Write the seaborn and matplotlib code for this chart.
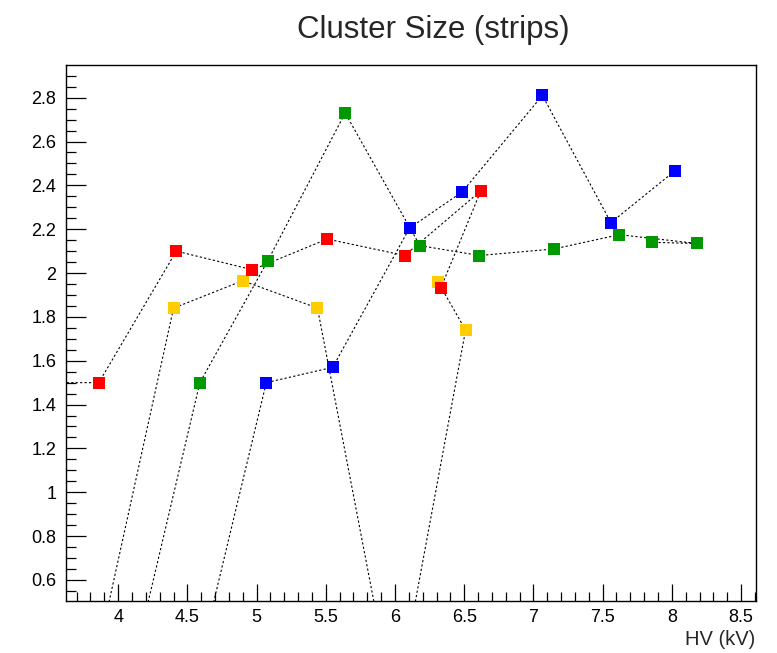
import matplotlib
matplotlib.use("Agg")
import matplotlib.pyplot as plt
from matplotlib.ticker import MultipleLocator, FormatStrFormatter
import seaborn as sns
import pandas as pd

# HV scan points per chamber (kV, mean cluster size in strips)
yellow_hv = [3.76, 4.40, 4.90, 5.44, 6.00, 6.51, 6.31]
yellow_cs = [0.00, 1.84, 1.965, 1.84, 0.00, 1.74, 1.96]

red_hv = [3.50, 3.86, 4.42, 4.97, 5.51, 6.07, 6.62, 6.33]
red_cs = [1.50, 1.50, 2.10, 2.015, 2.155, 2.08, 2.375, 1.93]

green_hv = [4.03, 4.59, 5.08, 5.64, 6.18, 6.61, 7.15, 7.62, 8.18, 7.86]
green_cs = [0.00, 1.50, 2.055, 2.73, 2.125, 2.08, 2.11, 2.175, 2.135, 2.14]

blue_hv = [4.50, 5.07, 5.55, 6.105, 6.485, 7.065, 7.56, 8.02]
blue_cs = [0.00, 1.50, 1.57, 2.205, 2.37, 2.81, 2.23, 2.465]

series = [
    ("yellow", yellow_hv, yellow_cs, "#FFCC00"),
    ("red", red_hv, red_cs, "#FF0000"),
    ("green", green_hv, green_cs, "#009900"),
    ("blue", blue_hv, blue_cs, "#0000FF"),
]

sns.set_theme(style="white")
plt.rcParams["font.family"] = ["Liberation Sans", "DejaVu Sans"]

W, H = 777, 653
fig = plt.figure(figsize=(W / 100, H / 100), dpi=100)
ax = fig.add_axes([66 / W, 1 - 601 / H, (755.7 - 66) / W, (601 - 65) / H])

# connecting lines first (in acquisition order), then the markers on top
for name, hv, cs, col in series:
    df = pd.DataFrame({"hv": hv, "cs": cs})
    sns.lineplot(data=df, x="hv", y="cs", sort=False, estimator=None, ax=ax,
                 color="black", linewidth=0.8, linestyle=(0, (2.0, 2.0)), zorder=2)
for name, hv, cs, col in series:
    df = pd.DataFrame({"hv": hv, "cs": cs})
    sns.scatterplot(data=df, x="hv", y="cs", ax=ax, marker="s", s=78,
                    color=col, edgecolor=col, linewidth=0, zorder=3)

ax.set_xlim(3.623, 8.606)
ax.set_ylim(0.504, 2.949)

ax.xaxis.set_major_locator(MultipleLocator(0.5))
ax.xaxis.set_minor_locator(MultipleLocator(0.1))
ax.yaxis.set_major_locator(MultipleLocator(0.2))
ax.yaxis.set_minor_locator(MultipleLocator(0.05))
ax.xaxis.set_major_formatter(FormatStrFormatter("%g"))
ax.yaxis.set_major_formatter(FormatStrFormatter("%g"))

ax.tick_params(axis="both", which="both", direction="in", colors="black",
               labelsize=13, top=False, right=False, bottom=True, left=True)
ax.tick_params(axis="x", which="major", length=12.5, width=0.9, pad=6)
ax.tick_params(axis="x", which="minor", length=6.5, width=0.9)
ax.tick_params(axis="y", which="major", length=14.5, width=0.9, pad=7)
ax.tick_params(axis="y", which="minor", length=7.5, width=0.9)

for sp in ax.spines.values():
    sp.set_visible(True)
    sp.set_color("black")
    sp.set_linewidth(1.0)

ax.set_xlabel("")
ax.set_ylabel("")
ax.grid(False)

fig.text(755 / W, 1 - 645 / H, "HV (kV)", ha="right", va="baseline", fontsize=14.5)
fig.text(433 / W, 1 - 38 / H, "Cluster Size (strips)", ha="center", va="baseline",
         fontsize=22.5)

fig.savefig("out.png", dpi=100, facecolor="white")
